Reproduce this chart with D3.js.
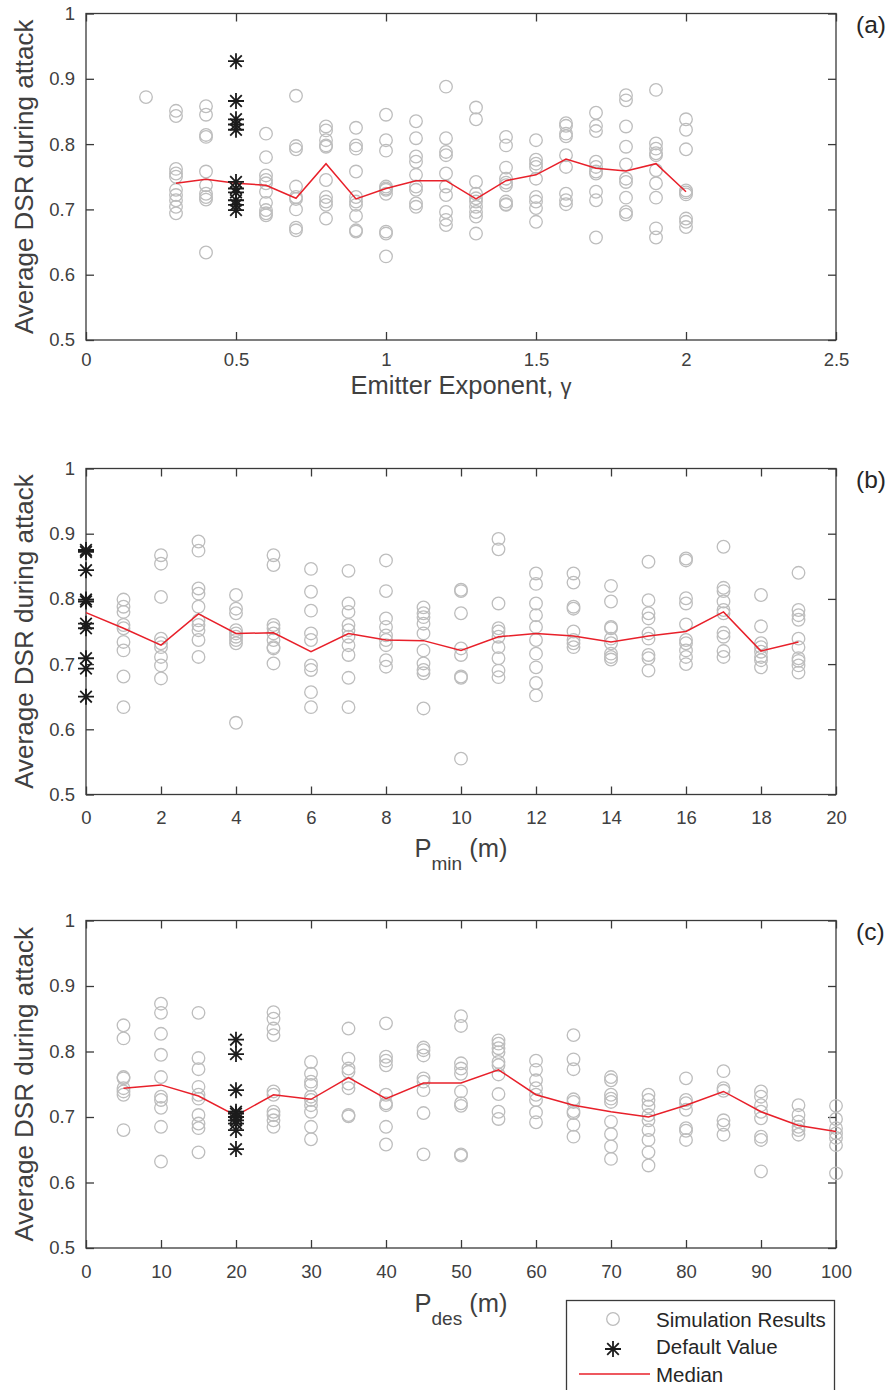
<!DOCTYPE html>
<html>
<head>
<meta charset="utf-8">
<script src="https://cdn.jsdelivr.net/npm/d3@7"></script>
<style>
  html, body { margin: 0; padding: 0; background: #fff; }
  svg { display: block; font-family: "Liberation Sans", Arial, Helvetica, sans-serif; }
</style>
</head>
<body>
<svg id="fig" width="892" height="1390"></svg>
<script>
// ---------------- shared y axis ----------------
const yTicks = [0.5, 0.6, 0.7, 0.8, 0.9, 1];
const yTickLabels = ["0.5", "0.6", "0.7", "0.8", "0.9", "1"];

// ---------------- (a) emitter exponent ----------------
const gammaTicks = [0, 0.5, 1, 1.5, 2, 2.5];
const gammaTickLabels = ["0", "0.5", "1", "1.5", "2", "2.5"];
const gammaLevels = [0.2, 0.3, 0.4, 0.6, 0.7, 0.8, 0.9, 1.0, 1.1, 1.2, 1.3, 1.4, 1.5, 1.6, 1.7, 1.8, 1.9, 2.0];
const gammaResults = [
  [0.872],
  [0.851, 0.843, 0.762, 0.755, 0.750, 0.730, 0.722, 0.714, 0.704, 0.694],
  [0.858, 0.845, 0.814, 0.811, 0.758, 0.737, 0.724, 0.719, 0.715, 0.634],
  [0.816, 0.780, 0.752, 0.745, 0.740, 0.727, 0.710, 0.699, 0.694, 0.691],
  [0.874, 0.797, 0.792, 0.735, 0.719, 0.716, 0.700, 0.672, 0.668],
  [0.827, 0.821, 0.806, 0.798, 0.796, 0.745, 0.719, 0.712, 0.707, 0.686],
  [0.825, 0.798, 0.793, 0.758, 0.719, 0.712, 0.707, 0.690, 0.668, 0.666],
  [0.845, 0.806, 0.790, 0.735, 0.732, 0.730, 0.724, 0.666, 0.663, 0.628],
  [0.835, 0.809, 0.781, 0.773, 0.753, 0.735, 0.730, 0.709, 0.704],
  [0.888, 0.809, 0.788, 0.783, 0.755, 0.735, 0.722, 0.696, 0.684, 0.676],
  [0.856, 0.838, 0.742, 0.724, 0.717, 0.712, 0.704, 0.696, 0.689, 0.663],
  [0.811, 0.798, 0.764, 0.747, 0.741, 0.737, 0.712, 0.708, 0.707],
  [0.806, 0.776, 0.770, 0.765, 0.747, 0.719, 0.712, 0.702, 0.681],
  [0.832, 0.828, 0.816, 0.812, 0.783, 0.765, 0.724, 0.714, 0.708],
  [0.848, 0.828, 0.820, 0.773, 0.765, 0.758, 0.755, 0.727, 0.714, 0.657],
  [0.875, 0.867, 0.827, 0.796, 0.769, 0.747, 0.742, 0.718, 0.696, 0.692],
  [0.883, 0.801, 0.793, 0.786, 0.783, 0.760, 0.740, 0.718, 0.671, 0.657],
  [0.838, 0.822, 0.792, 0.729, 0.726, 0.723, 0.686, 0.681, 0.673]
];
const gammaDefaultLevel = 0.5;
const gammaDefaultResults = [0.927, 0.866, 0.838, 0.830, 0.822, 0.742, 0.732, 0.726, 0.714, 0.707, 0.699];
const gammaMedianLevels = [0.3, 0.4, 0.5, 0.6, 0.7, 0.8, 0.9, 1.0, 1.1, 1.2, 1.3, 1.4, 1.5, 1.6, 1.7, 1.8, 1.9, 2.0];
const gammaMedian = [0.740, 0.746, 0.740, 0.737, 0.717, 0.770, 0.716, 0.732, 0.744, 0.744, 0.716, 0.744, 0.753, 0.777, 0.763, 0.759, 0.770, 0.727];

// ---------------- (b) minimum distance ----------------
const pminTicks = [0, 2, 4, 6, 8, 10, 12, 14, 16, 18, 20];
const pminTickLabels = ["0", "2", "4", "6", "8", "10", "12", "14", "16", "18", "20"];
const pminLevels = [1, 2, 3, 4, 5, 6, 7, 8, 9, 10, 11, 12, 13, 14, 15, 16, 17, 18, 19];
const pminResults = [
  [0.799, 0.788, 0.780, 0.760, 0.755, 0.734, 0.721, 0.681, 0.634],
  [0.867, 0.854, 0.803, 0.739, 0.732, 0.726, 0.711, 0.698, 0.678],
  [0.888, 0.874, 0.816, 0.808, 0.788, 0.767, 0.760, 0.752, 0.737, 0.711],
  [0.806, 0.785, 0.778, 0.752, 0.747, 0.742, 0.737, 0.732, 0.610],
  [0.867, 0.852, 0.760, 0.755, 0.747, 0.737, 0.726, 0.724, 0.701],
  [0.846, 0.811, 0.782, 0.747, 0.737, 0.698, 0.691, 0.657, 0.634],
  [0.843, 0.793, 0.780, 0.760, 0.752, 0.742, 0.729, 0.714, 0.679, 0.634],
  [0.859, 0.812, 0.770, 0.757, 0.744, 0.737, 0.729, 0.706, 0.696],
  [0.787, 0.778, 0.772, 0.762, 0.747, 0.721, 0.701, 0.691, 0.686, 0.632],
  [0.814, 0.812, 0.778, 0.724, 0.714, 0.681, 0.679, 0.555],
  [0.892, 0.876, 0.793, 0.755, 0.750, 0.742, 0.726, 0.709, 0.690, 0.680],
  [0.839, 0.823, 0.793, 0.775, 0.757, 0.737, 0.716, 0.695, 0.671, 0.652],
  [0.839, 0.825, 0.788, 0.785, 0.750, 0.737, 0.732, 0.726],
  [0.820, 0.796, 0.757, 0.755, 0.739, 0.732, 0.716, 0.711, 0.707],
  [0.857, 0.798, 0.778, 0.770, 0.747, 0.739, 0.714, 0.709, 0.690],
  [0.862, 0.859, 0.801, 0.793, 0.761, 0.737, 0.732, 0.721, 0.711, 0.700],
  [0.880, 0.817, 0.812, 0.796, 0.783, 0.778, 0.748, 0.742, 0.720, 0.711],
  [0.806, 0.758, 0.732, 0.726, 0.719, 0.711, 0.706, 0.695],
  [0.840, 0.783, 0.775, 0.768, 0.739, 0.726, 0.709, 0.705, 0.698, 0.687]
];
const pminDefaultLevel = 0;
const pminDefaultResults = [0.875, 0.872, 0.844, 0.799, 0.796, 0.762, 0.755, 0.709, 0.693, 0.650];
const pminMedianLevels = [0, 1, 2, 3, 4, 5, 6, 7, 8, 9, 10, 11, 12, 13, 14, 15, 16, 17, 18, 19];
const pminMedian = [0.779, 0.755, 0.729, 0.777, 0.747, 0.748, 0.719, 0.747, 0.737, 0.736, 0.721, 0.742, 0.747, 0.743, 0.734, 0.743, 0.750, 0.780, 0.720, 0.734];

// ---------------- (c) desired distance ----------------
const pdesTicks = [0, 10, 20, 30, 40, 50, 60, 70, 80, 90, 100];
const pdesTickLabels = ["0", "10", "20", "30", "40", "50", "60", "70", "80", "90", "100"];
const pdesLevels = [5, 10, 15, 25, 30, 35, 40, 45, 50, 55, 60, 65, 70, 75, 80, 85, 90, 95, 100];
const pdesResults = [
  [0.840, 0.820, 0.761, 0.759, 0.744, 0.739, 0.734, 0.680],
  [0.873, 0.859, 0.827, 0.795, 0.761, 0.731, 0.726, 0.714, 0.685, 0.632],
  [0.859, 0.790, 0.773, 0.746, 0.734, 0.728, 0.703, 0.690, 0.683, 0.646],
  [0.860, 0.850, 0.835, 0.825, 0.739, 0.734, 0.708, 0.703, 0.695, 0.685],
  [0.784, 0.766, 0.754, 0.749, 0.731, 0.726, 0.718, 0.708, 0.685, 0.666],
  [0.835, 0.789, 0.774, 0.769, 0.751, 0.744, 0.703, 0.701],
  [0.843, 0.792, 0.786, 0.779, 0.734, 0.721, 0.718, 0.685, 0.658],
  [0.806, 0.802, 0.794, 0.759, 0.754, 0.741, 0.706, 0.643],
  [0.854, 0.839, 0.782, 0.774, 0.766, 0.739, 0.721, 0.717, 0.643, 0.641],
  [0.817, 0.812, 0.805, 0.799, 0.784, 0.779, 0.765, 0.735, 0.708, 0.697],
  [0.786, 0.772, 0.756, 0.744, 0.734, 0.726, 0.707, 0.692],
  [0.825, 0.788, 0.773, 0.727, 0.723, 0.709, 0.706, 0.688, 0.670],
  [0.761, 0.756, 0.734, 0.728, 0.723, 0.693, 0.674, 0.655, 0.636],
  [0.734, 0.726, 0.716, 0.703, 0.695, 0.680, 0.665, 0.646, 0.626],
  [0.759, 0.726, 0.721, 0.711, 0.683, 0.679, 0.665],
  [0.770, 0.744, 0.740, 0.695, 0.688, 0.673],
  [0.739, 0.731, 0.718, 0.708, 0.698, 0.670, 0.665, 0.617],
  [0.718, 0.703, 0.693, 0.685, 0.680, 0.673],
  [0.717, 0.697, 0.683, 0.675, 0.668, 0.657, 0.614]
];
const pdesDefaultLevel = 20;
const pdesDefaultResults = [0.818, 0.796, 0.741, 0.708, 0.705, 0.700, 0.695, 0.690, 0.680, 0.651];
const pdesMedianLevels = [5, 10, 15, 20, 25, 30, 35, 40, 45, 50, 55, 60, 65, 70, 75, 80, 85, 90, 95, 100];
const pdesMedian = [0.744, 0.749, 0.732, 0.702, 0.734, 0.727, 0.760, 0.728, 0.752, 0.752, 0.772, 0.734, 0.718, 0.708, 0.700, 0.718, 0.739, 0.708, 0.687, 0.678];

// ---------------- drawing ----------------
const AXIS_COLOR = "#3a3a3a";
const TEXT_COLOR = "#404040";
const CIRCLE_COLOR = "#bdbdbd";
const STAR_COLOR = "#1c1c1c";
const MEDIAN_COLOR = "#e8202a";
const STAR_PATH = "M-8,0H8M0,-8V8M-5.8,-5.8L5.8,5.8M-5.8,5.8L5.8,-5.8";

const svg = d3.select("#fig");
const left = 86, right = 836;

function drawPanel(p) {
  const x = d3.scaleLinear().domain(p.xDomain).range([left, right]);
  const y = d3.scaleLinear().domain([0.5, 1]).range([p.bottom, p.top]);
  const g = svg.append("g");

  // frame
  g.append("rect")
    .attr("x", left).attr("y", p.top)
    .attr("width", right - left).attr("height", p.bottom - p.top)
    .attr("fill", "none").attr("stroke", AXIS_COLOR).attr("stroke-width", 1.3);

  // axes, ticks pointing inward
  const styleAxis = (sel, showLabels) => {
    sel.select(".domain").remove();
    sel.selectAll(".tick line").attr("stroke", AXIS_COLOR).attr("stroke-width", 1.3);
    sel.selectAll(".tick text")
      .attr("fill", TEXT_COLOR)
      .attr("font-size", "18.5px")
      .attr("font-family", "Liberation Sans, Arial, Helvetica, sans-serif");
    if (!showLabels) sel.selectAll(".tick text").remove();
  };

  g.append("g").attr("transform", `translate(0,${p.bottom})`)
    .call(d3.axisBottom(x).tickValues(p.xTicks).tickFormat((d, i) => p.xTickLabels[i])
      .tickSizeInner(-8).tickSizeOuter(0).tickPadding(p.xPad))
    .call(s => styleAxis(s, true));
  g.append("g").attr("transform", `translate(0,${p.top})`)
    .call(d3.axisTop(x).tickValues(p.xTicks).tickSizeInner(-8).tickSizeOuter(0))
    .call(s => styleAxis(s, false));
  g.append("g").attr("transform", `translate(${left},0)`)
    .call(d3.axisLeft(y).tickValues(yTicks).tickFormat((d, i) => yTickLabels[i])
      .tickSizeInner(-8).tickSizeOuter(0).tickPadding(11))
    .call(s => styleAxis(s, true));
  g.append("g").attr("transform", `translate(${right},0)`)
    .call(d3.axisRight(y).tickValues(yTicks).tickSizeInner(-8).tickSizeOuter(0))
    .call(s => styleAxis(s, false));

  // simulation results (open circles)
  const pts = [];
  p.levels.forEach((lv, i) => p.results[i].forEach(v => pts.push([lv, v])));
  g.append("g").selectAll("circle").data(pts).join("circle")
    .attr("cx", d => x(d[0])).attr("cy", d => y(d[1])).attr("r", 6.3)
    .attr("fill", "none").attr("stroke", CIRCLE_COLOR).attr("stroke-width", 1.3);

  // median line
  const line = d3.line().x(d => x(d[0])).y(d => y(d[1]));
  g.append("path")
    .datum(p.medianLevels.map((lv, i) => [lv, p.median[i]]))
    .attr("d", line).attr("fill", "none")
    .attr("stroke", MEDIAN_COLOR).attr("stroke-width", 1.5);

  // default value (asterisks)
  g.append("g").selectAll("path").data(p.defaults).join("path")
    .attr("transform", d => `translate(${x(p.defaultLevel)},${y(d)})`)
    .attr("d", STAR_PATH).attr("fill", "none")
    .attr("stroke", STAR_COLOR).attr("stroke-width", 1.8);

  // y label
  g.append("text")
    .attr("transform", `translate(33,${(p.top + p.bottom) / 2}) rotate(-90)`)
    .attr("text-anchor", "middle").attr("fill", TEXT_COLOR)
    .attr("font-size", "26px")
    .text("Average DSR during attack");

  // x label
  const xl = g.append("text")
    .attr("x", (left + right) / 2).attr("y", p.labelY)
    .attr("text-anchor", "middle").attr("fill", TEXT_COLOR)
    .attr("font-size", "25.5px");
  p.xLabel(xl);

  // panel tag
  g.append("text").attr("x", 856).attr("y", p.top + 19)
    .attr("fill", "#262626").attr("font-size", "24.5px").text(p.tag);
}

drawPanel({
  top: 13.5, bottom: 340, xDomain: [0, 2.5],
  xTicks: gammaTicks, xTickLabels: gammaTickLabels, xPad: 12.5,
  levels: gammaLevels, results: gammaResults,
  defaultLevel: gammaDefaultLevel, defaults: gammaDefaultResults,
  medianLevels: gammaMedianLevels, median: gammaMedian,
  labelY: 394, tag: "(a)",
  xLabel: t => {
    t.append("tspan").text("Emitter Exponent, ");
    t.append("tspan").attr("font-size", "22px").text("γ");
  }
});

drawPanel({
  top: 468.5, bottom: 794.5, xDomain: [0, 20],
  xTicks: pminTicks, xTickLabels: pminTickLabels, xPad: 16.5,
  levels: pminLevels, results: pminResults,
  defaultLevel: pminDefaultLevel, defaults: pminDefaultResults,
  medianLevels: pminMedianLevels, median: pminMedian,
  labelY: 857, tag: "(b)",
  xLabel: t => {
    t.append("tspan").text("P");
    t.append("tspan").attr("font-size", "19px").attr("dy", 13).text("min");
    t.append("tspan").attr("dy", -13).text(" (m)");
  }
});

drawPanel({
  top: 920.5, bottom: 1248, xDomain: [0, 100],
  xTicks: pdesTicks, xTickLabels: pdesTickLabels, xPad: 17,
  levels: pdesLevels, results: pdesResults,
  defaultLevel: pdesDefaultLevel, defaults: pdesDefaultResults,
  medianLevels: pdesMedianLevels, median: pdesMedian,
  labelY: 1311.5, tag: "(c)",
  xLabel: t => {
    t.append("tspan").text("P");
    t.append("tspan").attr("font-size", "19px").attr("dy", 13).text("des");
    t.append("tspan").attr("dy", -13).text(" (m)");
  }
});

// ---------------- legend ----------------
const legend = svg.append("g");
legend.append("rect")
  .attr("x", 566.5).attr("y", 1300.5).attr("width", 268).attr("height", 110)
  .attr("fill", "#fff").attr("stroke", AXIS_COLOR).attr("stroke-width", 1.3);
legend.append("circle").attr("cx", 613).attr("cy", 1319).attr("r", 6.3)
  .attr("fill", "none").attr("stroke", CIRCLE_COLOR).attr("stroke-width", 1.3);
legend.append("path").attr("transform", "translate(613,1349)").attr("d", STAR_PATH)
  .attr("fill", "none").attr("stroke", STAR_COLOR).attr("stroke-width", 1.8);
legend.append("line").attr("x1", 579).attr("x2", 650).attr("y1", 1374).attr("y2", 1374)
  .attr("stroke", MEDIAN_COLOR).attr("stroke-width", 1.5);
const legendItems = ["Simulation Results", "Default Value", "Median"];
legend.selectAll("text.item").data(legendItems).join("text")
  .attr("class", "item")
  .attr("x", 656).attr("y", (d, i) => 1327 + i * 27.3)
  .attr("fill", "#262626").attr("font-size", "20.5px")
  .text(d => d);
</script>
</body>
</html>
